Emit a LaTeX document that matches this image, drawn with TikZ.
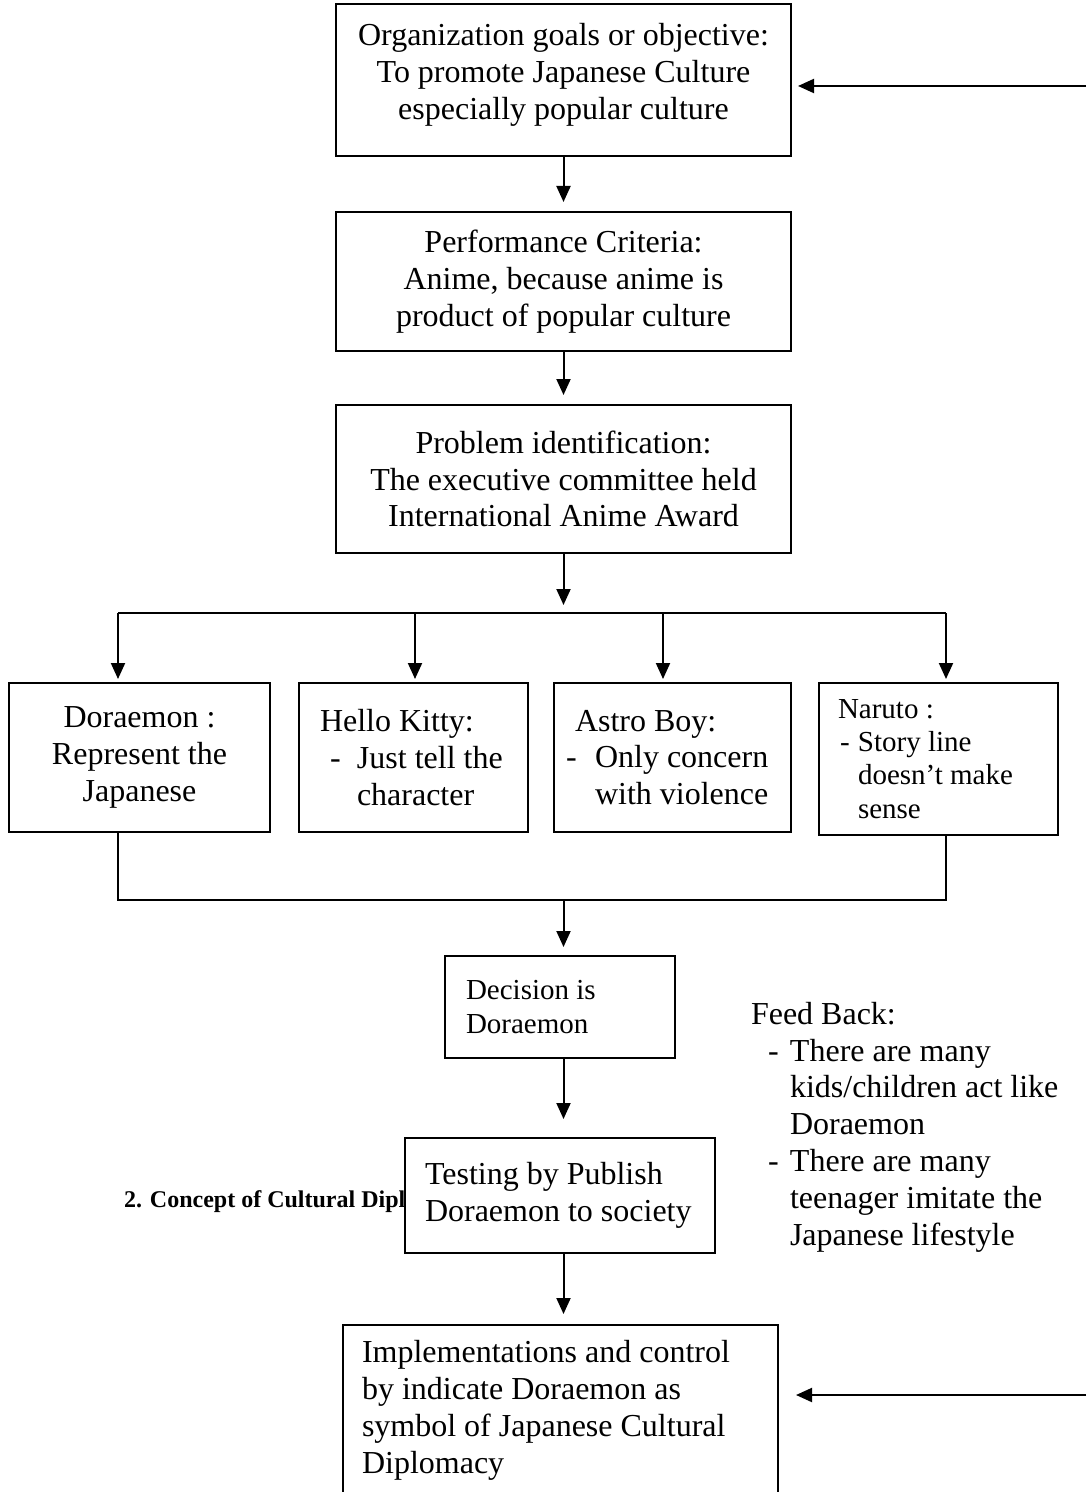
\documentclass[tikz,border=0pt]{standalone}
\usepackage{fontspec}
\setmainfont{Liberation Serif}
\usetikzlibrary{arrows.meta}

\tikzset{every picture/.style={line width=1pt}}
\tikzset{
	box/.style={draw, fill=white, inner xsep=0pt, inner ysep=0pt, font=\fontsize{16}{18.4}\selectfont,
		execute at begin node={\spaceskip=0pt\xspaceskip=0pt}},
	smallbox/.style={box, font=\fontsize{14.5}{16.6}\selectfont},
	arr/.style={-{Triangle[length=8pt,width=7pt]}}}

\begin{document}
\begin{tikzpicture}[x=0.5pt,y=0.5pt,yscale=-1,xscale=1]
	\useasboundingbox (0,0) rectangle (1086,1492);
	\clip (0,0) rectangle (1086,1492);

	% Text Node
	\node [anchor=base west, inner sep=0pt, font=\bfseries\fontsize{12}{14}\selectfont] (heading) at (123,1207) {2. Concept of Cultural Dipl};

	%Shape: Rectangle
	\node [box, align=center, minimum width=227.5pt, minimum height=76pt] (goal) at (563.5,80) {Organization goals or objective:\\ To promote Japanese Culture\\ especially popular culture\\[-10pt]};
	%Shape: Rectangle
	\node [box, align=center, minimum width=227.5pt, minimum height=69.5pt] (crit) at (563.5,281.5) {Performance Criteria:\\ Anime, because anime is\\ product of popular culture};
	%Shape: Rectangle
	\node [box, align=center, minimum width=227.5pt, minimum height=74pt] (prob) at (563.5,479) {Problem identification:\\ The executive committee held\\ International Anime Award};

	%Shape: Rectangle
	\node [box, align=center, minimum width=130.5pt, minimum height=74.5pt] (dora) at (139.5,757.5) {Doraemon :\\ Represent the\\ Japanese};
	%Shape: Rectangle
	\node [box, inner xsep=10.5pt, text width=93.5pt, align=left, minimum height=74.5pt] (kitty) at (413.5,757.5) {Hello Kitty:\\ \makebox[18.5pt][l]{\hspace*{5pt}-}Just tell the\\ \hspace*{18.5pt}character};
	%Shape: Rectangle
	\node [box, inner xsep=6pt, text width=106.5pt, align=left, minimum height=74.5pt] (astro) at (672.5,757.5) {\hspace*{4.5pt}Astro Boy:\\ \makebox[14.5pt][l]{-}Only concern\\ \hspace*{14.5pt}with violence};
	%Shape: Rectangle
	\node [smallbox, inner xsep=9.5pt, text width=100.5pt, align=left, minimum height=76pt] (naruto) at (938.5,759) {Naruto :\\ \makebox[10pt][l]{\hspace*{1pt}-}Story line\\ \hspace*{10pt}doesn't make\\ \hspace*{10pt}sense};

	%Shape: Rectangle
	\node [smallbox, inner xsep=10.5pt, text width=94pt, align=left, minimum height=51pt] (deci) at (560,1007) {Decision is\\ Doraemon};
	%Shape: Rectangle
	\node [box, inner xsep=10pt, text width=135pt, align=left, minimum height=57.5pt] (test) at (560,1195.5) {Testing by Publish\\ Doraemon to society};
	%Shape: Rectangle
	\node [box, inner xsep=9.5pt, text width=198.5pt, align=left, minimum height=85.5pt] (impl) at (560.5,1410.5) {Implementations and control\\ by indicate Doraemon as\\ symbol of Japanese Cultural\\ Diplomacy};

	% Text Node
	\node [anchor=north west, inner sep=0pt, align=left, font=\fontsize{16}{18.4}\selectfont] (feedback) at (750,1001) {Feed Back:\\ \makebox[19.5pt][l]{\hspace*{8.5pt}-}There are many\\ \hspace*{19.5pt}kids/children act like\\ \hspace*{19.5pt}Doraemon\\ \makebox[19.5pt][l]{\hspace*{8.5pt}-}There are many\\ \hspace*{19.5pt}teenager imitate the\\ \hspace*{19.5pt}Japanese lifestyle};

	% Connectors
	\coordinate (fork) at (563.5,613);
	\coordinate (forkL) at (118,613);
	\coordinate (forkK) at (415,613);
	\coordinate (forkA) at (663,613);
	\coordinate (forkR) at (946,613);
	\coordinate (joinL) at (118,900);
	\coordinate (join) at (563.5,900);
	\coordinate (joinR) at (946,900);
	\coordinate (backTop) at (1086,86);
	\coordinate (backBot) at (1086,1395);

	\draw [arr, shorten >=4.5pt] (goal) -- (crit);
	\draw [arr, shorten >=4.5pt] (crit) -- (prob);
	\draw [arr, shorten >=4pt] (prob) -- (fork);
	\draw (forkL) -- (forkR);
	\draw [arr, shorten >=1.5pt] (forkL) -- (forkL |- dora.north);
	\draw [arr, shorten >=1.5pt] (forkK) -- (forkK |- kitty.north);
	\draw [arr, shorten >=1.5pt] (forkA) -- (forkA |- astro.north);
	\draw [arr, shorten >=1.5pt] (forkR) -- (forkR |- naruto.north);

	\draw (joinL |- dora.south) -- (joinL) -- (joinR) -- (joinR |- naruto.south);
	\draw [arr, shorten >=4pt] (join) -- (join |- deci.north);
	\draw [arr, shorten >=9pt] (join |- deci.south) -- (join |- test.north);
	\draw [arr, shorten >=5pt] (join |- test.south) -- (join |- impl.north);

	\draw [arr, shorten >=3pt] (backTop) -- (backTop -| goal.east);
	\draw [arr, shorten >=8.5pt] (backBot) -- (backBot -| impl.east);

\end{tikzpicture}
\end{document}
